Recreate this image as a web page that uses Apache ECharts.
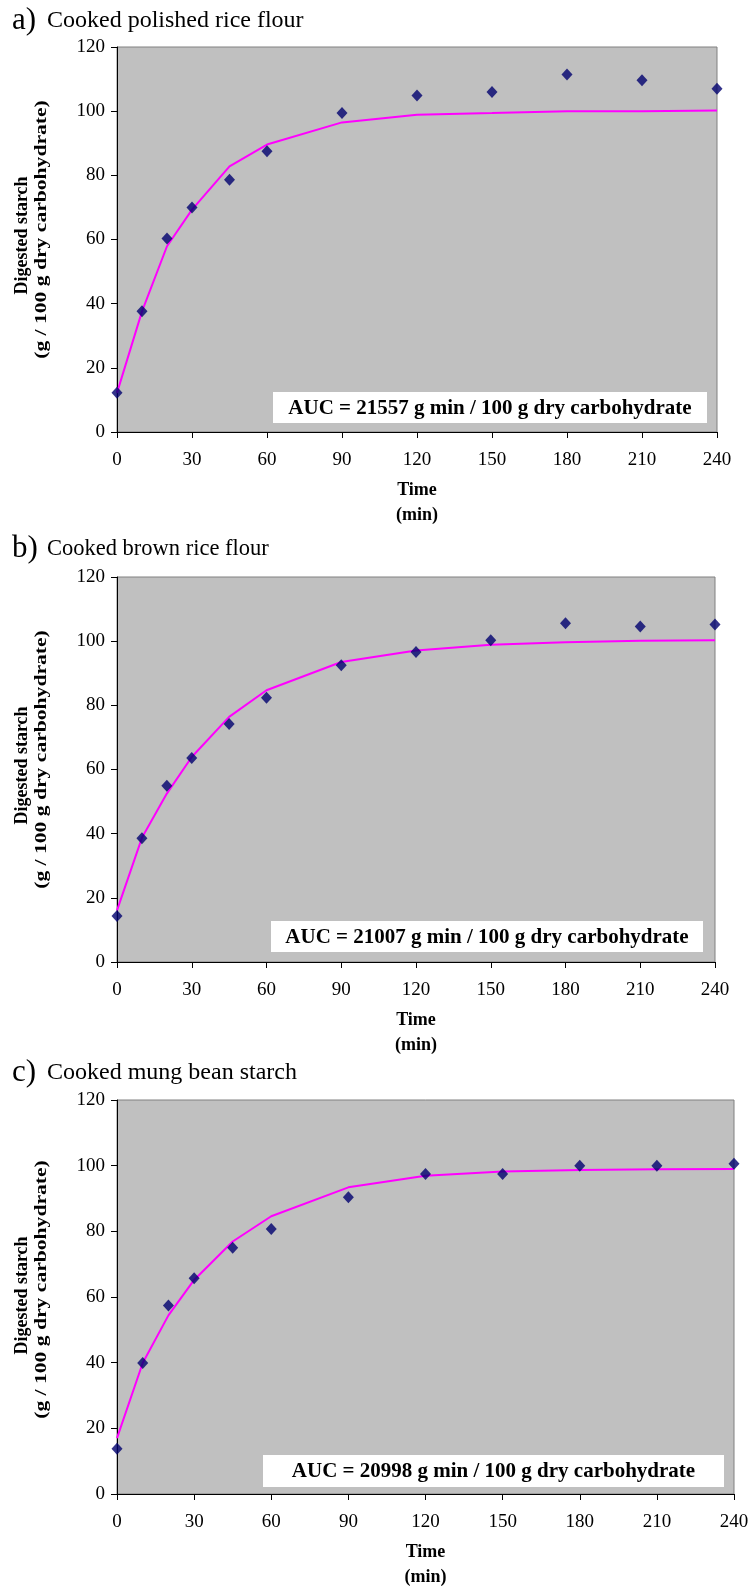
<!DOCTYPE html>
<html>
<head>
<meta charset="utf-8">
<script src="https://cdn.jsdelivr.net/npm/echarts@6/dist/echarts.min.js"></script>
<style>
html,body{margin:0;padding:0;background:#fff;}
#chart{width:753px;height:1591px;}
</style>
</head>
<body>
<div id="chart"></div>
<script>
// ---- Data ----
const timeMin = [0, 10, 20, 30, 45, 60, 90, 120, 150, 180, 210, 240];

const obsPolished = [12.2, 37.6, 60.3, 70.0, 78.6, 87.5, 99.4, 104.9, 106.0, 111.4, 109.6, 107.0];
const fitPolished = [12.2, 37.6, 57.9, 69.3, 82.8, 89.6, 96.5, 98.9, 99.4, 100.0, 100.0, 100.2];

const obsBrown = [14.3, 38.6, 54.9, 63.6, 74.2, 82.4, 92.5, 96.6, 100.3, 105.6, 104.6, 105.2];
const fitBrown = [16.1, 38.7, 52.5, 63.9, 76.4, 84.7, 93.5, 97.1, 98.9, 99.7, 100.1, 100.3];

const obsMung = [13.8, 39.9, 57.4, 65.7, 75.0, 80.7, 90.4, 97.5, 97.5, 100.0, 100.0, 100.6];
const fitMung = [17.0, 39.9, 54.4, 65.2, 76.9, 84.6, 93.4, 96.9, 98.2, 98.7, 98.9, 99.0];

const panelLetters = ['a)', 'b)', 'c)'];
const panelTitles = ['Cooked polished rice flour', 'Cooked brown rice flour', 'Cooked mung bean starch'];
const aucTexts = [
  'AUC = 21557 g min / 100 g dry carbohydrate',
  'AUC = 21007 g min / 100 g dry carbohydrate',
  'AUC = 20998 g min / 100 g dry carbohydrate'
];
const xTitle = 'Time\n(min)';
const yTitleLine1 = 'Digested starch';
const yTitleLine2 = '(g / 100 g dry carbohydrate)';

// ---- Layout (pixels) ----
const FONT = "'Liberation Serif', 'Times New Roman', serif";
const grids = [
  {left: 117, top: 47, width: 600, height: 385},
  {left: 117, top: 577, width: 598, height: 385},
  {left: 117, top: 1100, width: 617, height: 399}
];
const titleY = [23, 551, 1075];
const titleSize = [24, 22.5, 24];
const aucBoxes = [
  {x: 273, y: 392, w: 434, h: 31},
  {x: 271, y: 921, w: 432, h: 31},
  {x: 263, y: 1455, w: 461, h: 32}
];

const obsSets = [obsPolished, obsBrown, obsMung];
const fitSets = [fitPolished, fitBrown, fitMung];

const pair = (xs, ys) => xs.map((x, i) => [x, ys[i]]);

const chart = echarts.init(document.getElementById('chart'), null, {renderer: 'canvas'});

const option = {
  backgroundColor: '#ffffff',
  animation: false,
  grid: grids.map(g => ({
    left: g.left, top: g.top, width: g.width, height: g.height,
    show: true, backgroundColor: '#C0C0C0', borderColor: '#808080', borderWidth: 1,
    containLabel: false
  })),
  xAxis: grids.map((g, i) => ({
    type: 'value', gridIndex: i, min: 0, max: 240, interval: 30,
    name: xTitle, nameLocation: 'middle', nameGap: 46,
    nameTextStyle: {fontFamily: FONT, fontWeight: 'bold', fontSize: 18, color: '#000', lineHeight: 25},
    axisLine: {show: true, onZero: false, lineStyle: {color: '#000', width: 1}},
    axisTick: {show: true, inside: false, length: 6, lineStyle: {color: '#000'}},
    axisLabel: {fontFamily: FONT, fontSize: 19, color: '#000', margin: 19},
    splitLine: {show: false}
  })),
  yAxis: grids.map((g, i) => ({
    type: 'value', gridIndex: i, min: 0, max: 120, interval: 20,
    axisLine: {show: true, lineStyle: {color: '#000', width: 1}},
    axisTick: {show: true, inside: false, length: 6, lineStyle: {color: '#000'}},
    axisLabel: {fontFamily: FONT, fontSize: 19, color: '#000', margin: 12},
    splitLine: {show: false}
  })),
  series: [].concat(...[0, 1, 2].map(i => ([
    {
      type: 'line', xAxisIndex: i, yAxisIndex: i,
      data: pair(timeMin, fitSets[i]),
      showSymbol: false, symbol: 'none', smooth: false,
      lineStyle: {color: '#FF00FF', width: 2},
      z: 2
    },
    {
      type: 'scatter', xAxisIndex: i, yAxisIndex: i,
      data: pair(timeMin, obsSets[i]),
      symbol: 'diamond', symbolSize: [11, 12],
      itemStyle: {color: '#00006E'},
      z: 3
    }
  ]))),
  graphic: [].concat(...[0, 1, 2].map(i => {
    const g = grids[i];
    const cy = g.top + g.height / 2;
    return [
      {
        type: 'text', left: 12, top: titleY[i] - 18,
        style: {text: panelLetters[i], font: '31px ' + FONT, fill: '#000'}
      },
      {
        type: 'text', left: 47, top: titleY[i] - titleSize[i] * 0.6,
        style: {text: panelTitles[i], font: titleSize[i] + 'px ' + FONT, fill: '#000'}
      },
      {
        type: 'text', x: 22, y: cy - 4, rotation: Math.PI / 2,
        style: {text: yTitleLine1, font: 'bold 18px ' + FONT, fill: '#000', align: 'center', verticalAlign: 'middle'}
      },
      {
        type: 'text', x: 42, y: cy - 10, rotation: Math.PI / 2, scaleX: 1.35,
        style: {text: yTitleLine2, font: 'bold 16px ' + FONT, fill: '#000', align: 'center', verticalAlign: 'middle'}
      },
      {
        type: 'rect', shape: {x: aucBoxes[i].x, y: aucBoxes[i].y, width: aucBoxes[i].w, height: aucBoxes[i].h},
        style: {fill: '#ffffff'}, z: 10
      },
      {
        type: 'text', x: aucBoxes[i].x + aucBoxes[i].w / 2, y: aucBoxes[i].y + aucBoxes[i].h / 2 + 1,
        style: {text: aucTexts[i], font: 'bold 21px ' + FONT, fill: '#000', align: 'center', verticalAlign: 'middle'},
        z: 11
      }
    ];
  }))
};

chart.setOption(option);
</script>
</body>
</html>
